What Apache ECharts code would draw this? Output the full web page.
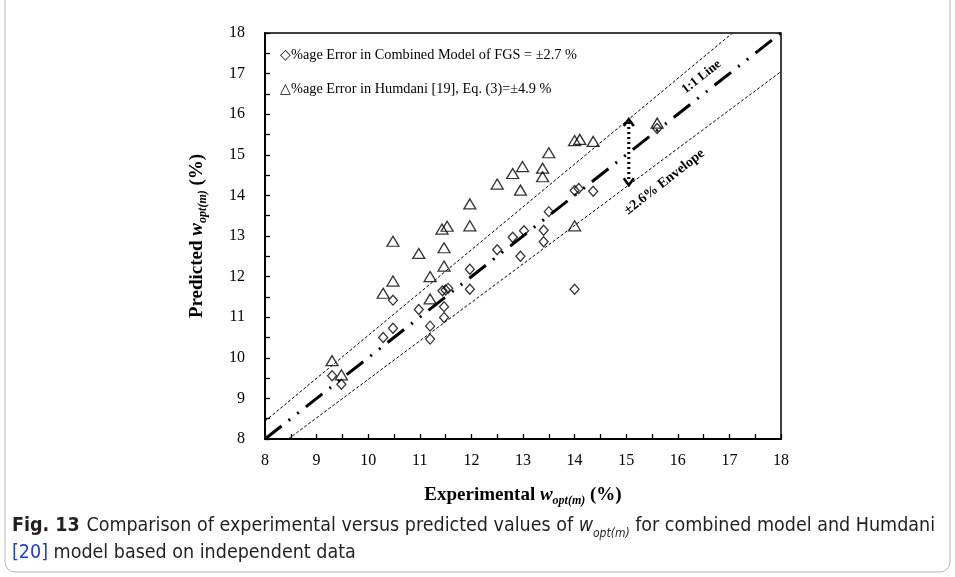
<!DOCTYPE html>
<html><head><meta charset="utf-8">
<script src="https://cdn.jsdelivr.net/npm/echarts@6/dist/echarts.min.js"></script>
<style>html,body{margin:0;padding:0;background:#fff}#c{width:955px;height:577px}</style>
</head><body><div id="c"></div>
<script>
// ---- data ----
const combinedX = [9.3, 9.48, 10.29, 10.48, 10.48, 10.98, 11.2, 11.2, 11.44, 11.5, 11.55, 11.47, 11.47, 11.97, 11.97, 12.5, 12.95, 12.8, 13.02, 13.4, 13.4, 13.5, 14.0, 14.08, 14.36, 14.0, 15.6];
const combinedY = [9.56, 9.35, 10.5, 10.73, 11.42, 11.19, 10.78, 10.46, 11.65, 11.67, 11.71, 11.26, 10.99, 12.18, 11.69, 12.66, 12.5, 12.97, 13.13, 13.14, 12.86, 13.6, 14.12, 14.17, 14.1, 11.69, 15.65];
const humdaniX = [9.3, 9.48, 10.29, 10.48, 10.48, 10.98, 11.2, 11.2, 11.43, 11.53, 11.47, 11.47, 11.97, 11.97, 12.5, 12.8, 12.99, 12.95, 13.38, 13.38, 13.5, 14.0, 14.1, 14.36, 14.0, 15.6];
const humdaniY = [9.93, 9.58, 11.59, 11.89, 12.87, 12.57, 12.0, 11.45, 13.17, 13.24, 12.71, 12.26, 13.79, 13.25, 14.28, 14.54, 14.71, 14.13, 14.67, 14.46, 15.05, 15.35, 15.38, 15.33, 13.25, 15.78];
const oneToOneLine = [[8, 8], [18, 18]];
const upperEnvelope = [[8, 8.44], [17.06, 18]];
const lowerEnvelope = [[8.45, 8], [18, 17.05]];
const arrowX = 15.05, arrowTop = 15.88, arrowBottom = 14.25;
const axisMin = 8, axisMax = 18, tickStep = 0.5;
const legendTexts = ['\u25C7%age Error in Combined Model of FGS = \u00B12.7 %', '\u25B3%age Error in Humdani [19], Eq. (3)=\u00B14.9 %'];
const annotations = [
  {text: '1:1 Line', x: 16.46, y: 16.92, angle: 38.3, size: 13},
  {text: '\u00B12.6% Envelope', x: 15.74, y: 14.33, angle: 38, size: 14}
];
// ---------------

const serif = '"Liberation Serif", "Times New Roman", serif';
const sans = '"DejaVu Sans Condensed", "Liberation Sans", sans-serif';
const zip = (a, b) => a.map((v, i) => [v, b[i]]);
const chart = echarts.init(document.getElementById('c'), null, {renderer: 'canvas'});

const richTitle = {
  b: {fontFamily: serif, fontWeight: 'bold', fontSize: 19, color: '#000', lineHeight: 24},
  w: {fontFamily: serif, fontWeight: 'bold', fontStyle: 'italic', fontSize: 19, color: '#000', lineHeight: 24},
  s: {fontFamily: serif, fontWeight: 'bold', fontStyle: 'italic', fontSize: 12, color: '#000', lineHeight: 24, verticalAlign: 'bottom'}
};
const capSize = 19.5;

const option = {
  animation: false,
  backgroundColor: '#fff',
  grid: {left: 265, right: 174, top: 33, bottom: 138, show: true, borderColor: '#000', borderWidth: 1.5, backgroundColor: 'transparent'},
  xAxis: {
    type: 'value', min: axisMin, max: axisMax, interval: tickStep,
    axisLine: {onZero: false, lineStyle: {color: '#000', width: 2}},
    axisTick: {inside: true, length: 5, lineStyle: {color: '#000', width: 1.3}},
    splitLine: {show: false},
    axisLabel: {formatter: v => Number.isInteger(v) ? String(v) : '', fontFamily: serif, fontSize: 16, color: '#000', margin: 14},
    name: '{b|Experimental }{w|w}{s|opt(m)}{b| (%)}', nameLocation: 'middle', nameGap: 44,
    nameTextStyle: {rich: richTitle}
  },
  yAxis: {
    type: 'value', min: axisMin, max: axisMax, interval: tickStep,
    axisLine: {onZero: false, lineStyle: {color: '#000', width: 2}},
    axisTick: {inside: true, length: 5, lineStyle: {color: '#000', width: 1.3}},
    splitLine: {show: false},
    axisLabel: {formatter: v => Number.isInteger(v) ? String(v) : '', fontFamily: serif, fontSize: 16, color: '#000', margin: 20},
    name: '{b|Predicted }{w|w}{s|opt(m)}{b| (%)}', nameLocation: 'middle', nameGap: 56, nameRotate: 90,
    nameTextStyle: {rich: richTitle}
  },
  series: [
    {type: 'line', data: upperEnvelope, symbol: 'none', silent: true, lineStyle: {color: '#000', width: 1, type: [3, 2]}},
    {type: 'line', data: lowerEnvelope, symbol: 'none', silent: true, lineStyle: {color: '#000', width: 1, type: [3, 2]}},
    {type: 'line', data: oneToOneLine, symbol: 'none', silent: true, lineStyle: {color: '#000', width: 3, type: [21, 9, 2, 9, 2, 9]}},
    {type: 'scatter', data: zip(combinedX, combinedY), symbol: 'diamond', symbolSize: [9, 10],
      itemStyle: {color: 'transparent', borderColor: '#000', borderWidth: 1.3}},
    {type: 'scatter', data: zip(humdaniX, humdaniY), symbol: 'triangle', symbolSize: [12, 10],
      itemStyle: {color: 'transparent', borderColor: '#000', borderWidth: 1.3}},
    {type: 'custom', data: [[arrowX, arrowTop, arrowBottom]], silent: true,
      renderItem: (params, api) => {
        const t = api.coord([api.value(0), api.value(1)]);
        const b = api.coord([api.value(0), api.value(2)]);
        const h = 7, w = 5;
        return {type: 'group', children: [
          {type: 'line', shape: {x1: t[0], y1: t[1] + 3, x2: b[0], y2: b[1] - 3}, style: {stroke: '#000', lineWidth: 3, lineDash: [2, 3]}},
          {type: 'polyline', shape: {points: [[t[0] - w, t[1] + h], [t[0], t[1]], [t[0] + w, t[1] + h]]}, style: {stroke: '#000', lineWidth: 2.5, fill: null}},
          {type: 'polyline', shape: {points: [[b[0] - w, b[1] - h], [b[0], b[1]], [b[0] + w, b[1] - h]]}, style: {stroke: '#000', lineWidth: 2.5, fill: null}}
        ]};
      }},
    {type: 'custom', data: annotations.map(a => [a.x, a.y]), silent: true,
      renderItem: (params, api) => {
        const a = annotations[params.dataIndex];
        const p = api.coord([api.value(0), api.value(1)]);
        return {type: 'text', x: p[0], y: p[1], rotation: a.angle * Math.PI / 180,
          style: {text: a.text, fill: '#000', font: 'bold ' + a.size + 'px ' + serif, align: 'center', verticalAlign: 'middle'}};
      }}
  ],
  graphic: [
    {type: 'rect', shape: {x: 5, y: -20, width: 945, height: 592, r: 10}, style: {stroke: '#b5b5b5', lineWidth: 1, fill: null}, silent: true},
    {type: 'text', left: 280, top: 48, style: {text: legendTexts[0], font: '14.3px ' + serif, fill: '#000'}},
    {type: 'text', left: 280, top: 82, style: {text: legendTexts[1], font: '14.3px ' + serif, fill: '#000'}},
    {type: 'text', left: 12, top: 516, style: {
      text: '{f|Fig. 13}  {t|Comparison of experimental versus predicted values of }{w|w}{s|opt(m)}{t| for combined model and Humdani}\n{l|[20]}{t| model based on independent data}',
      rich: {
        f: {fontFamily: sans, fontWeight: 'bold', fontSize: capSize, fill: '#231f20', lineHeight: 27},
        t: {fontFamily: sans, fontSize: capSize, fill: '#231f20', lineHeight: 27},
        w: {fontFamily: sans, fontStyle: 'italic', fontSize: capSize, fill: '#231f20', lineHeight: 27},
        s: {fontFamily: sans, fontStyle: 'italic', fontSize: 12, fill: '#231f20', lineHeight: 27, verticalAlign: 'bottom'},
        l: {fontFamily: sans, fontSize: capSize, fill: '#1f3fd0', lineHeight: 27}
      }
    }}
  ]
};
chart.setOption(option);
</script></body></html>
